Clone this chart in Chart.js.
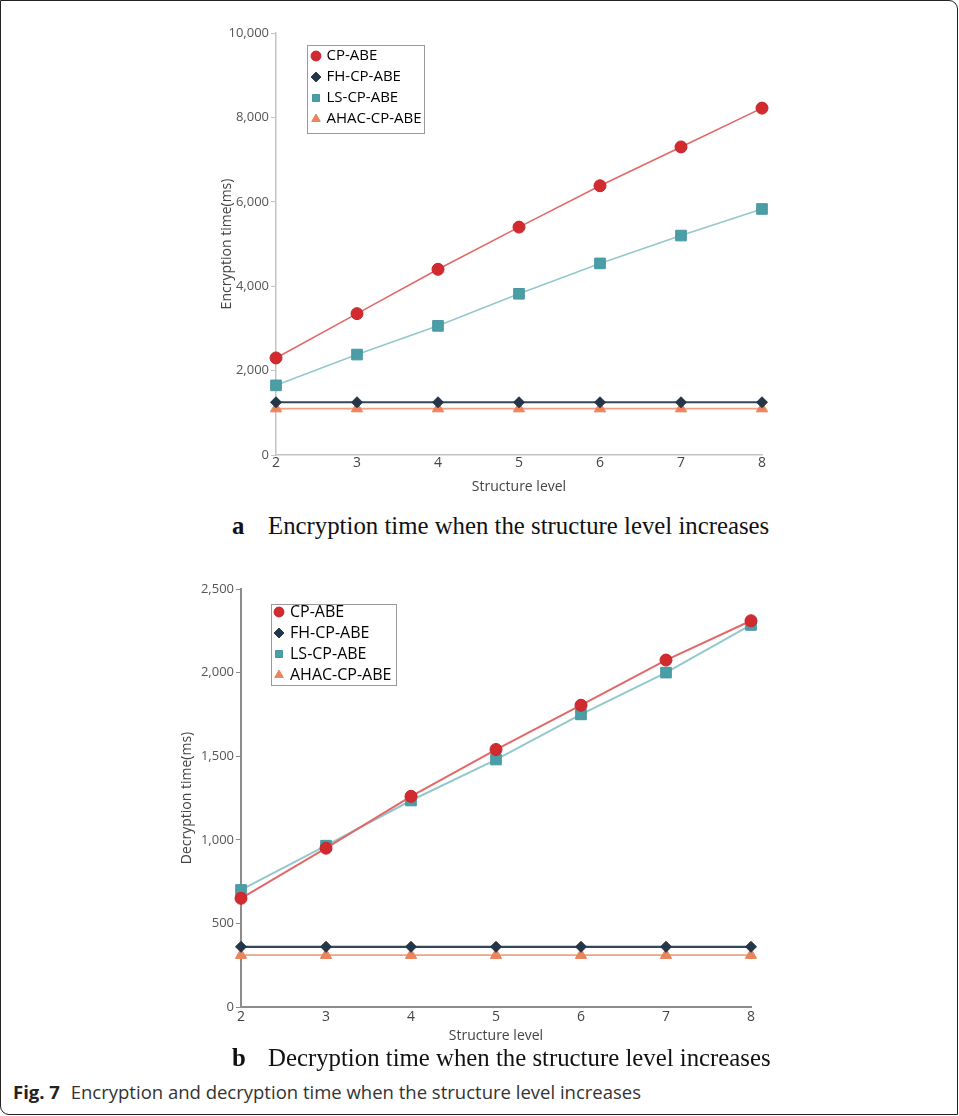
<!DOCTYPE html>
<html>
<head>
<meta charset="utf-8">
<script src="https://cdn.jsdelivr.net/npm/chart.js@4.4.1/dist/chart.umd.min.js"></script>
<style>
  html, body { margin: 0; padding: 0; background: #fff; }
  body { width: 959px; height: 1116px; position: relative; overflow: hidden; }
  .frame {
    position: absolute; left: 0; top: 0; width: 958px; height: 1115px;
    box-sizing: border-box; border: 1px solid #222;
    border-top-right-radius: 9px; border-bottom-left-radius: 9px;
  }
  .wrap { position: absolute; left: 0; width: 959px; }
  #wrap-a { top: 0; height: 500px; }
  #wrap-b { top: 560px; height: 488px; }
  .sub {
    position: absolute; left: 232px; font-family: "Liberation Serif", "Times New Roman", serif;
    font-size: 24.8px; color: #111; white-space: nowrap; line-height: 1;
  }
  .sub b { display: inline-block; width: 36px; }
  #sub-a { top: 514px; }
  #sub-b { top: 1046px; }
  .fig {
    position: absolute; left: 13px; top: 1081px; font-family: "Open Sans", sans-serif;
    font-size: 18.5px; color: #333; white-space: nowrap; line-height: 1.2;
  }
  .fig b { color: #222; margin-right: 6px; }
</style>
</head>
<body>
<div class="frame"></div>
<div class="wrap" id="wrap-a"><canvas id="chart-a"></canvas></div>
<div class="sub" id="sub-a"><b>a</b>Encryption time when the structure level increases</div>
<div class="wrap" id="wrap-b"><canvas id="chart-b"></canvas></div>
<div class="sub" id="sub-b"><b>b</b>Decryption time when the structure level increases</div>
<div class="fig"><b>Fig. 7</b> Encryption and decryption time when the structure level increases</div>
<script>
const levels = ["2", "3", "4", "5", "6", "7", "8"];

// encryption time (ms)
const encCP = [2300, 3350, 4400, 5400, 6380, 7300, 8220];
const encFH = [1250, 1250, 1250, 1250, 1250, 1250, 1250];
const encLS = [1650, 2380, 3060, 3820, 4540, 5200, 5830];
const encAHAC = [1100, 1100, 1100, 1100, 1100, 1100, 1100];
const encTicks = [0, 2000, 4000, 6000, 8000, 10000];

// decryption time (ms)
const decCP = [650, 950, 1260, 1540, 1805, 2075, 2310];
const decFH = [360, 360, 360, 360, 360, 360, 360];
const decLS = [700, 965, 1235, 1480, 1750, 2000, 2285];
const decAHAC = [310, 310, 310, 310, 310, 310, 310];
const decTicks = [0, 500, 1000, 1500, 2000, 2500];

Chart.defaults.font.family = "'Open Sans', 'Noto Sans', sans-serif";
Chart.defaults.color = "#555";

const STYLE = {
  cp: { line: "#e36868", point: "#d22b2f", edge: "#c4262a", shape: "circle", r: 6 },
  fh: { line: "#34475a", point: "#24374a", edge: "#24374a", shape: "rectRot", r: 5.5 },
  ls: { line: "#93c8cc", point: "#4c9ea6", edge: "#4797a0", shape: "rect", r: 7.5 },
  ahac: { line: "#f2a07e", point: "#e9845c", edge: "#e9845c", shape: "triangle", r: 6.5 },
};

function ds(label, data, key, lineW) {
  const s = STYLE[key];
  return {
    label,
    data,
    borderColor: s.line,
    backgroundColor: s.point,
    borderWidth: lineW,
    pointStyle: s.shape,
    pointRadius: s.r,
    pointBackgroundColor: s.point,
    pointBorderColor: s.edge,
    pointBorderWidth: 1,
    tension: 0,
    fill: false,
  };
}

// legend sits inside the plot; frame drawn separately round it
const legendBox = {
  id: "legendBox",
  afterLayout(chart, args, opts) {
    const lg = chart.legend;
    if (!lg) return;
    const w = lg.width, h = lg.height;
    lg.left = chart.chartArea.left + opts.dx;
    lg.top = chart.chartArea.top + opts.dy;
    lg.right = lg.left + w;
    lg.bottom = lg.top + h;
  },
  afterDraw(chart, args, opts) {
    const ctx = chart.ctx;
    const { left, top } = chart.chartArea;
    ctx.save();
    ctx.strokeStyle = "#9a9a9a";
    ctx.lineWidth = 1;
    ctx.strokeRect(Math.round(left + opts.bx) + 0.5, Math.round(top + opts.by) + 0.5, opts.w, opts.h);
    ctx.restore();
  },
};

function makeChart(id, datasets, ticks, cfg) {
  return new Chart(document.getElementById(id), {
    type: "line",
    data: { labels: levels, datasets },
    plugins: [legendBox],
    options: {
      responsive: true,
      maintainAspectRatio: false,
      animation: false,
      layout: { padding: cfg.pad },
      plugins: {
        legend: {
          position: "chartArea",
          align: "start",
          labels: {
            usePointStyle: true,
            boxWidth: 6,
            boxHeight: 7,
            padding: cfg.legendPad,
            color: "#333",
            font: { size: cfg.legendFont },
            generateLabels(chart) {
              return chart.data.datasets.map((d, i) => ({
                text: d.label,
                fillStyle: d.pointBackgroundColor,
                strokeStyle: d.pointBorderColor,
                lineWidth: 1,
                pointStyle: d.pointStyle,
                hidden: false,
                datasetIndex: i,
              }));
            },
          },
        },
        legendBox: cfg.legend,
        tooltip: { enabled: false },
      },
      scales: {
        x: {
          type: "category",
          offset: false,
          grid: { display: false, drawTicks: false },
          border: { display: true, color: cfg.axisColor, width: cfg.axisWidth },
          ticks: { padding: cfg.xTickPad, font: { size: 14 }, color: "#444" },
          title: { display: true, text: "Structure level", color: "#444", font: { size: 14 }, padding: 4 },
          afterFit(scale) { scale.height = cfg.xH; },
        },
        y: {
          min: ticks[0],
          max: ticks[ticks.length - 1],
          afterBuildTicks(scale) { scale.ticks = ticks.map((v) => ({ value: v })); },
          grid: { display: true, drawOnChartArea: false, drawTicks: true, tickLength: 5, color: cfg.axisColor },
          border: { display: true, color: cfg.axisColor, width: cfg.axisWidth },
          ticks: { padding: 2, font: { size: 13 }, color: "#555", callback: (v) => v.toLocaleString("en-US") },
          title: { display: true, text: cfg.yTitle, color: "#444", font: { size: 14 }, padding: 4 },
          afterFit(scale) { scale.width = cfg.yW; },
        },
      },
    },
  });
}

makeChart(
  "chart-a",
  [
    ds("CP-ABE", encCP, "cp", 1.6),
    ds("FH-CP-ABE", encFH, "fh", 2.2),
    ds("LS-CP-ABE", encLS, "ls", 1.6),
    ds("AHAC-CP-ABE", encAHAC, "ahac", 1.6),
  ],
  encTicks,
  {
    pad: { left: 215, right: 197, top: 33, bottom: 1 },
    xH: 44, yW: 61, xTickPad: 0,
    axisColor: "#c4c4c4", axisWidth: 1.5,
    yTitle: "Encryption time(ms)",
    legendPad: 6, legendFont: 15,
    legend: { dx: 31, dy: 9.5, bx: 31, by: 12, w: 117, h: 88 },
  }
);

makeChart(
  "chart-b",
  [
    ds("CP-ABE", decCP, "cp", 2),
    ds("FH-CP-ABE", decFH, "fh", 2.2),
    ds("LS-CP-ABE", decLS, "ls", 2),
    ds("AHAC-CP-ABE", decAHAC, "ahac", 1.6),
  ],
  decTicks,
  {
    pad: { left: 175, right: 208, top: 29, bottom: 0 },
    xH: 41, yW: 66, xTickPad: 2,
    axisColor: "#8c8c8c", axisWidth: 2,
    yTitle: "Decryption time(ms)",
    legendPad: 5, legendFont: 16,
    legend: { dx: 30, dy: 10, bx: 30, by: 15, w: 125, h: 81 },
  }
);
</script>
</body>
</html>
